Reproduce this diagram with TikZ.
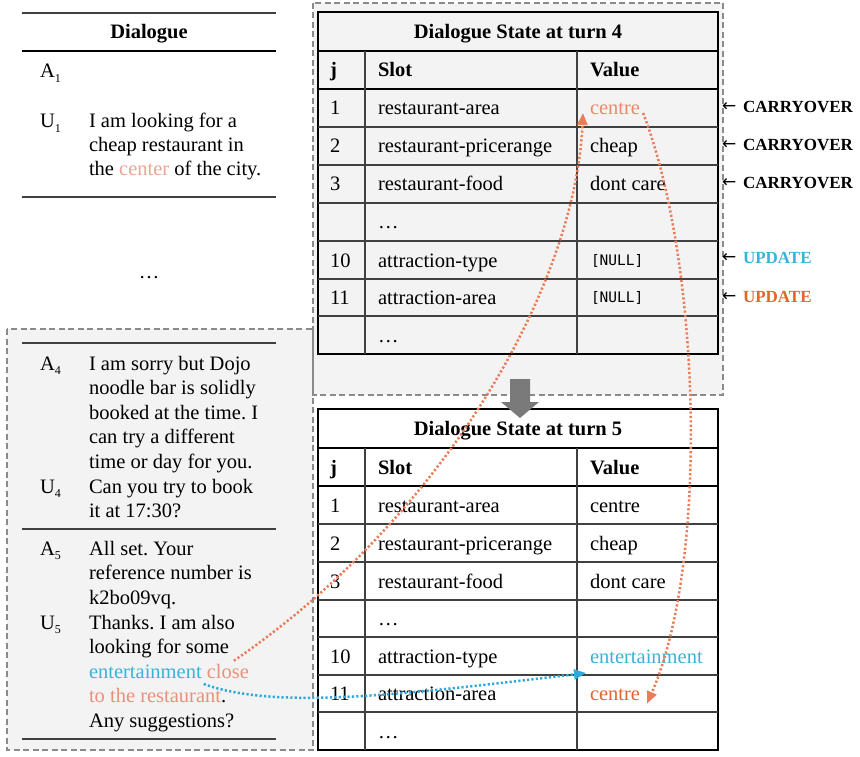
\documentclass[tikz,border=0pt]{standalone}
\usepackage{fontspec}
\setmainfont{Liberation Serif}
\newfontfamily\monof{DejaVu Sans Mono}
\newfontfamily\symf{DejaVu Sans}
\usetikzlibrary{arrows.meta,calc}
\frenchspacing
\definecolor{boxgray}{HTML}{F3F3F3}
\definecolor{dashgray}{HTML}{8A8A8A}
\definecolor{orUpd}{HTML}{E8622E}
\definecolor{orCen}{HTML}{EA8A68}
\definecolor{orCenB}{HTML}{E2642F}
\definecolor{orArr}{HTML}{E87D5A}
\definecolor{orPale}{HTML}{E9A595}
\definecolor{orClose}{HTML}{E8927C}
\definecolor{cyTxt}{HTML}{38B4D6}
\definecolor{cyArr}{HTML}{2FA9DC}
\definecolor{arrgray}{HTML}{7A7A7A}
\newcommand\spk[2]{#1\raisebox{-0.22em}{\fontsize{12}{12}\selectfont #2}}
\newcommand\nul{{\monof\fontsize{14.5}{14.5}\selectfont [NULL]}}
\tikzset{
  every node/.style={inner sep=0pt, outer sep=0pt, font=\fontsize{20.5}{24.5}\selectfont\frenchspacing},
  txt/.style={anchor=base west},
  ctr/.style={anchor=base},
  lab/.style={anchor=base west, font=\bfseries\fontsize{17}{17}\selectfont},
  arrsym/.style={anchor=base west, font=\symf\fontsize{17}{17}\selectfont},
  dbox/.style={draw=dashgray, line width=1.6pt, dash pattern=on 6pt off 3.5pt},
  thinl/.style={draw=black!75, line width=1.1pt},
  thickl/.style={draw=black, line width=2.4pt},
  outl/.style={draw=black, line width=1.5pt},
  odot/.style={draw=orArr, line width=2.5pt, dash pattern=on 2.2pt off 2.2pt, -{Triangle[length=12pt,width=10pt]}},
  cdot/.style={draw=cyArr, line width=2.5pt, dash pattern=on 2.2pt off 2.2pt, -{Triangle[length=12pt,width=10pt]}}
}
\begin{document}
\begin{tikzpicture}[x=1pt,y=-1pt]
\useasboundingbox (0,0) rectangle (860,757);
% backgrounds
\fill[boxgray] (313,3) rectangle (723,395);
\fill[boxgray] (7,329) rectangle (313,750);
\fill[white] (318,409) rectangle (718,750);
\draw[dbox] (313,3) rectangle (723,395);
\draw[dbox] (7,329) rectangle (313,750);

% ---------- top-left dialogue ----------
\draw[thinl] (22,13) -- (276,13);
\draw[thickl] (22,51) -- (276,51);
\draw[thinl] (22,197) -- (276,197);
\node[ctr, font=\bfseries\fontsize{20.5}{24.5}\selectfont] (dtitle) at (149,39) {Dialogue};
\node[txt] (a1) at (40,78) {\spk{A}{1}};
\node[txt] (u1) at (40,128) {\spk{U}{1}};
\node[txt] (u1a) at (89,128) {I am looking for a};
\node[txt] (u1b) at (89,152) {cheap restaurant in};
\node[txt] (u1c) at (89,176) {the \textcolor{orPale}{center} of the city.};
\node[ctr] (ddots) at (149,278) {…};

% ---------- left box dialogue ----------
\draw[thinl] (22,343) -- (276,343);
\draw[thinl] (22,529) -- (276,529);
\draw[thinl] (22,739) -- (276,739);
\node[txt] (a4) at (40,370) {\spk{A}{4}};
\node[txt] (a4a) at (89,370) {I am sorry but Dojo};
\node[txt] (a4b) at (89,394.5) {noodle bar is solidly};
\node[txt] (a4c) at (89,419) {booked at the time. I};
\node[txt] (a4d) at (89,443.5) {can try a different};
\node[txt] (a4e) at (89,468) {time or day for you.};
\node[txt] (u4) at (40,493) {\spk{U}{4}};
\node[txt] (u4a) at (89,493) {Can you try to book};
\node[txt] (u4b) at (89,517) {it at 17:30?};
\node[txt] (a5) at (40,555) {\spk{A}{5}};
\node[txt] (a5a) at (89,555) {All set. Your};
\node[txt] (a5b) at (89,579.5) {reference number is};
\node[txt] (a5c) at (89,604) {k2bo09vq.};
\node[txt] (u5) at (40,629) {\spk{U}{5}};
\node[txt] (u5a) at (89,629) {Thanks. I am also};
\node[txt] (u5b) at (89,653.5) {looking for some};
\node[txt, text=cyTxt] (ent) at (89,678) {entertainment};
\node[txt, text=orClose] (close) at ([xshift=5.1pt]ent.base east) {close};
\node[txt] (u5d) at (89,702.5) {\textcolor{orClose}{to the restaurant}.};
\node[txt] (u5e) at (89,727) {Any suggestions?};

% ---------- table turn 4 ----------
\draw[outl] (318,12) rectangle (718,354);
\draw[thickl] (318,51) -- (718,51);
\draw[thickl] (318,89) -- (718,89);
\foreach \yy in {127,165,203,241,279,316} \draw[thinl] (318,\yy) -- (718,\yy);
\draw[thinl] (365,51) -- (365,354);
\draw[thinl] (577,51) -- (577,354);
\node[ctr, font=\bfseries\fontsize{20.5}{24.5}\selectfont] (t4title) at (518,38.5) {Dialogue State at turn 4};
\node[txt, font=\bfseries\fontsize{20.5}{24.5}\selectfont] (t4hj) at (330,77) {j};
\node[txt, font=\bfseries\fontsize{20.5}{24.5}\selectfont] (t4hs) at (378,77) {Slot};
\node[txt, font=\bfseries\fontsize{20.5}{24.5}\selectfont] (t4hv) at (590,77) {Value};
\node[txt] (t4j1) at (330,115) {1};
\node[txt] (t4s1) at (378,115) {restaurant-area};
\node[txt, text=orCen] (c4) at (590,115) {centre};
\node[txt] (t4j2) at (330,153) {2};
\node[txt] (t4s2) at (378,153) {restaurant-pricerange};
\node[txt] (t4v2) at (590,153) {cheap};
\node[txt] (t4j3) at (330,191) {3};
\node[txt] (t4s3) at (378,191) {restaurant-food};
\node[txt] (t4v3) at (590,191) {dont care};
\node[txt] (t4d1) at (378,229) {…};
\node[txt] (t4j10) at (330,267) {10};
\node[txt] (t4s10) at (378,267) {attraction-type};
\node[txt] (t4v10) at (591,265) {\nul};
\node[txt] (t4j11) at (330,304.5) {11};
\node[txt] (t4s11) at (378,304.5) {attraction-area};
\node[txt] (t4v11) at (591,302.5) {\nul};
\node[txt] (t4d2) at (378,342) {…};

% ---------- right labels ----------
\node[arrsym] (ar1) at (722,112) {←};
\node[lab] (l1) at (743,113) {CARRYOVER};
\node[arrsym] (ar2) at (722,150) {←};
\node[lab] (l2) at (743,151) {CARRYOVER};
\node[arrsym] (ar3) at (722,188) {←};
\node[lab] (l3) at (743,189) {CARRYOVER};
\node[arrsym] (ar4) at (722,262.5) {←};
\node[lab, text=cyTxt] (l4) at (743,263.5) {UPDATE};
\node[arrsym] (ar5) at (722,301.5) {←};
\node[lab, text=orUpd] (l5) at (743,302.5) {UPDATE};

% ---------- table turn 5 ----------
\draw[outl] (318,409) rectangle (718,750);
\draw[thickl] (318,448) -- (718,448);
\draw[thickl] (318,486) -- (718,486);
\foreach \yy in {524,562,600,637,675,712} \draw[thinl] (318,\yy) -- (718,\yy);
\draw[thinl] (365,448) -- (365,750);
\draw[thinl] (577,448) -- (577,750);
\node[ctr, font=\bfseries\fontsize{20.5}{24.5}\selectfont] (t5title) at (518,435.5) {Dialogue State at turn 5};
\node[txt, font=\bfseries\fontsize{20.5}{24.5}\selectfont] (t5hj) at (330,474) {j};
\node[txt, font=\bfseries\fontsize{20.5}{24.5}\selectfont] (t5hs) at (378,474) {Slot};
\node[txt, font=\bfseries\fontsize{20.5}{24.5}\selectfont] (t5hv) at (590,474) {Value};
\node[txt] (t5j1) at (330,512) {1};
\node[txt] (t5s1) at (378,512) {restaurant-area};
\node[txt] (t5v1) at (590,512) {centre};
\node[txt] (t5j2) at (330,550) {2};
\node[txt] (t5s2) at (378,550) {restaurant-pricerange};
\node[txt] (t5v2) at (590,550) {cheap};
\node[txt] (t5j3) at (330,588) {3};
\node[txt] (t5s3) at (378,588) {restaurant-food};
\node[txt] (t5v3) at (590,588) {dont care};
\node[txt] (t5d1) at (378,625.5) {…};
\node[txt] (t5j10) at (330,663) {10};
\node[txt] (t5s10) at (378,663) {attraction-type};
\node[txt, text=cyTxt] (e5) at (590,663) {entertainment};
\node[txt] (t5j11) at (330,700.5) {11};
\node[txt] (t5s11) at (378,700.5) {attraction-area};
\node[txt, text=orCenB] (c5) at (590,700.5) {centre};
\node[txt] (t5d2) at (378,738) {…};

% ---------- block arrow between states ----------
\fill[arrgray] (510,379) -- (530,379) -- (530,402) -- (539,402) -- (520,418) -- (501,402) -- (510,402) -- cycle;

% ---------- dotted connectors ----------
\draw[odot] ([shift={(6,-3)}]close.north) .. controls (440,520) and (575,290) .. ([shift={(-7,-2)}]c4.base west);
\draw[odot] ([shift={(3,-2)}]c4.base east) .. controls (700,260) and (710,560) .. ([shift={(7,3)}]c5.base east);
\draw[cdot] ([shift={(2,6)}]ent.base east) .. controls (275,710) and (400,695) .. ([shift={(-4,10)}]e5.base west);
\end{tikzpicture}
\end{document}
